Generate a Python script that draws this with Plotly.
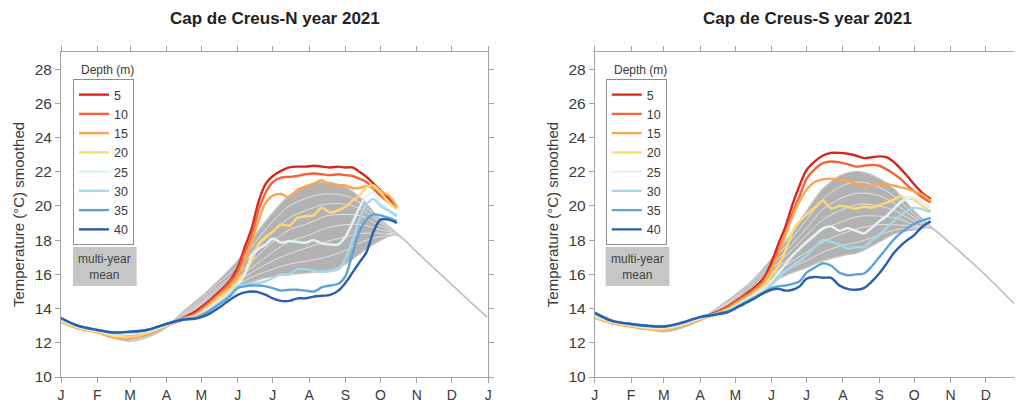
import plotly.graph_objects as go

# ---------------- data ----------------
month_days = [1, 32, 60, 91, 121, 152, 182, 213, 244, 274, 305, 335, 366]
month_labels = ["J", "F", "M", "A", "M", "J", "J", "A", "S", "O", "N", "D", "J"]
y_ticks = [10, 12, 14, 16, 18, 20, 22, 24, 26, 28]

depths = [5, 10, 15, 20, 25, 30, 35, 40]
depth_colors = ["#d7261e", "#f4623a", "#fba550", "#fdd873",
                "#e2f2f8", "#a6d6eb", "#5ea3d6", "#2b5fad"]

days_2021 = [1, 15, 32, 46, 60, 74, 91, 105, 115, 125, 135, 145, 152, 158, 164,
             170, 176, 182, 189, 196, 203, 210, 217, 224, 231, 238, 244, 250,
             256, 262, 268, 274, 281, 288]

days_clim = [1, 15, 32, 46, 60, 74, 91, 105, 121, 135, 152, 166, 182, 196, 213,
             227, 244, 258, 274, 288, 305, 319, 335, 349, 365]

# Cap de Creus-N, year 2021
N_5 = [13.3, 12.95, 12.7, 12.45, 12.4, 12.6, 13.05, 13.45, 13.8, 14.3, 14.9, 15.6, 16.4, 17.6, 18.7, 20.3, 21.3, 21.75, 22.05, 22.25, 22.3, 22.3, 22.35, 22.3, 22.25, 22.3, 22.25, 22.25, 22.0, 21.7, 21.3, 20.9, 20.45, 19.95]
N_10 = [13.25, 12.9, 12.65, 12.35, 12.3, 12.5, 13.0, 13.4, 13.7, 14.2, 14.8, 15.5, 16.2, 17.3, 18.3, 19.8, 20.8, 21.4, 21.65, 21.7, 21.75, 21.85, 21.9, 21.85, 21.8, 21.85, 21.8, 21.75, 21.6, 21.4, 21.0, 20.6, 20.2, 19.85]
N_15 = [13.2, 12.85, 12.6, 12.3, 12.25, 12.5, 13.0, 13.4, 13.6, 14.1, 14.7, 15.3, 15.9, 16.7, 17.9, 19.2, 20.2, 20.6, 20.7, 20.5, 20.95, 21.15, 21.3, 21.5, 21.15, 21.2, 21.2, 21.05, 21.05, 21.15, 21.05, 20.85, 20.6, 19.95]
N_20 = [13.25, 12.9, 12.65, 12.4, 12.35, 12.55, 13.0, 13.4, 13.55, 14.0, 14.55, 15.1, 15.6, 16.1, 16.8, 17.8, 18.2, 18.5, 18.9, 18.85, 19.3, 19.4, 19.45, 19.9, 19.6, 19.75, 19.95, 20.3, 20.6, 21.1, 21.2, 20.8, 20.2, 19.8]
N_25 = [13.35, 12.95, 12.7, 12.5, 12.5, 12.65, 13.05, 13.4, 13.5, 13.9, 14.4, 14.9, 15.4, 16.0, 17.1, 17.5, 17.75, 18.1, 17.85, 17.95, 17.9, 17.85, 18.0, 17.8, 17.75, 17.75, 18.2, 19.0, 19.9, 20.6, 20.75, 20.2, 19.8, 19.5]
N_30 = [13.4, 13.0, 12.75, 12.55, 12.6, 12.7, 13.1, 13.4, 13.45, 13.8, 14.25, 14.8, 15.3, 15.4, 15.45, 15.5, 15.6, 15.8, 16.0, 16.0, 16.3, 16.3, 16.2, 16.15, 16.2, 16.3, 16.9, 18.0, 19.2, 20.1, 20.4, 20.0, 19.7, 19.4]
N_35 = [13.45, 13.0, 12.75, 12.6, 12.65, 12.75, 13.1, 13.4, 13.45, 13.75, 14.2, 14.7, 15.2, 15.3, 15.35, 15.35, 15.3, 15.2, 15.05, 15.1, 15.1, 15.05, 15.0, 15.25, 15.35, 15.45, 15.9, 17.2, 18.5, 19.2, 19.5, 19.45, 19.3, 19.1]
N_40 = [13.45, 13.0, 12.75, 12.6, 12.65, 12.75, 13.1, 13.35, 13.4, 13.6, 14.0, 14.5, 14.8, 14.95, 15.0, 14.95, 14.8, 14.6, 14.45, 14.45, 14.6, 14.6, 14.7, 14.75, 14.8, 15.05, 15.5, 16.1, 16.7, 17.3, 18.5, 19.2, 19.2, 19.0]

# Cap de Creus-S, year 2021
S_5 = [13.55, 13.2, 13.0, 12.9, 12.85, 13.05, 13.45, 13.8, 14.15, 14.6, 15.1, 15.75, 16.7, 17.8, 18.8, 20.1, 21.2, 22.1, 22.6, 22.95, 23.1, 23.1, 23.05, 22.95, 22.8, 22.85, 22.9, 22.85, 22.6, 22.2, 21.75, 21.25, 20.75, 20.4]
S_10 = [13.5, 13.2, 13.0, 12.85, 12.8, 13.0, 13.4, 13.75, 14.1, 14.55, 15.0, 15.6, 16.4, 17.4, 18.4, 19.6, 20.6, 21.6, 22.15, 22.5, 22.6, 22.55, 22.45, 22.3, 22.35, 22.4, 22.35, 22.15, 21.9, 21.6, 21.2, 20.85, 20.5, 20.2]
S_15 = [13.45, 13.15, 12.95, 12.8, 12.75, 12.95, 13.35, 13.7, 14.0, 14.45, 14.9, 15.5, 16.3, 17.2, 18.3, 19.4, 20.3, 20.95, 21.4, 21.55, 21.6, 21.55, 21.45, 21.3, 21.15, 21.2, 21.3, 21.3, 21.2, 21.1, 21.0, 20.85, 20.65, 20.3]
S_20 = [13.5, 13.2, 13.0, 12.85, 12.8, 13.0, 13.4, 13.7, 13.95, 14.35, 14.8, 15.3, 15.9, 16.5, 17.4, 18.5, 19.1, 19.5, 19.9, 20.3, 19.85, 20.0, 19.95, 19.85, 19.95, 19.9, 20.05, 20.2, 20.35, 20.55, 20.45, 20.35, 20.0, 19.7]
S_25 = [13.6, 13.25, 13.05, 12.9, 12.9, 13.05, 13.45, 13.7, 13.9, 14.3, 14.7, 15.15, 15.6, 16.1, 16.6, 17.1, 17.5, 17.9, 18.3, 18.7, 18.8, 18.55, 18.7, 18.55, 18.4, 18.75, 19.1, 19.4, 19.8, 20.2, 20.45, 20.5, 20.2, 19.9]
S_30 = [13.7, 13.3, 13.1, 12.95, 12.95, 13.1, 13.5, 13.7, 13.85, 14.2, 14.6, 15.0, 15.4, 15.8, 16.2, 16.5, 16.8, 17.1, 17.6, 18.0, 17.9, 17.75, 17.5, 17.6, 17.6, 18.0, 18.3, 18.7, 19.1, 19.45, 19.7, 19.9, 19.8, 19.65]
S_35 = [13.75, 13.3, 13.1, 13.0, 12.95, 13.15, 13.5, 13.7, 13.85, 14.2, 14.55, 14.9, 15.2, 15.3, 15.35, 15.45, 15.6, 16.1, 16.4, 16.65, 16.5, 16.1, 15.95, 16.0, 16.05, 16.5, 17.0, 17.5, 18.0, 18.4, 18.7, 18.95, 19.15, 19.3]
S_40 = [13.75, 13.3, 13.1, 13.0, 12.95, 13.15, 13.5, 13.65, 13.8, 14.15, 14.5, 14.9, 15.1, 15.15, 15.05, 15.1, 15.3, 15.75, 15.85, 15.8, 15.8, 15.35, 15.15, 15.1, 15.2, 15.6, 16.05, 16.6, 17.2, 17.65, 18.0, 18.3, 18.8, 19.1]

# multi-year mean, Cap de Creus-N
N_c5 = [13.4, 13.05, 12.7, 12.3, 12.1, 12.3, 12.9, 13.8, 14.7, 15.6, 16.8, 18.2, 19.6, 20.6, 21.2, 21.4, 21.1, 20.4, 19.2, 18.4, 17.3, 16.4, 15.4, 14.5, 13.5]
N_c10 = [13.4, 13.05, 12.7, 12.3, 12.1, 12.3, 12.9, 13.7, 14.55, 15.45, 16.5, 17.8, 19.1, 20.0, 20.5, 20.7, 20.6, 20.1, 19.1, 18.4, 17.3, 16.4, 15.4, 14.5, 13.5]
N_c15 = [13.4, 13.05, 12.7, 12.3, 12.1, 12.3, 12.9, 13.6, 14.4, 15.25, 16.2, 17.4, 18.5, 19.3, 19.8, 20.1, 20.1, 19.8, 19.0, 18.4, 17.3, 16.4, 15.4, 14.5, 13.5]
N_c20 = [13.4, 13.05, 12.7, 12.35, 12.15, 12.35, 12.9, 13.5, 14.3, 15.1, 16.0, 16.9, 17.9, 18.6, 19.0, 19.4, 19.5, 19.4, 18.8, 18.4, 17.3, 16.4, 15.4, 14.5, 13.5]
N_c25 = [13.4, 13.05, 12.7, 12.35, 12.15, 12.35, 12.95, 13.45, 14.2, 14.95, 15.8, 16.5, 17.3, 17.9, 18.3, 18.7, 18.9, 18.9, 18.6, 18.35, 17.3, 16.4, 15.4, 14.5, 13.5]
N_c30 = [13.4, 13.05, 12.75, 12.4, 12.2, 12.4, 12.95, 13.4, 14.05, 14.75, 15.6, 16.2, 16.8, 17.2, 17.6, 17.9, 18.2, 18.4, 18.4, 18.3, 17.3, 16.4, 15.4, 14.5, 13.5]
N_c35 = [13.4, 13.05, 12.75, 12.4, 12.2, 12.4, 12.95, 13.35, 13.95, 14.6, 15.4, 15.9, 16.3, 16.6, 16.8, 17.0, 17.4, 17.9, 18.2, 18.3, 17.3, 16.4, 15.4, 14.5, 13.5]
N_c40 = [13.4, 13.05, 12.75, 12.4, 12.25, 12.4, 12.95, 13.3, 13.8, 14.4, 15.2, 15.6, 15.9, 16.0, 16.1, 16.2, 16.6, 17.3, 18.0, 18.3, 17.3, 16.4, 15.4, 14.5, 13.5]

# multi-year mean, Cap de Creus-S
S_c5 = [13.8, 13.35, 13.0, 12.8, 12.65, 12.85, 13.35, 14.0, 14.8, 15.6, 16.9, 18.1, 19.7, 21.0, 21.85, 22.0, 21.6, 20.9, 19.7, 18.8, 17.8, 16.95, 15.95, 15.0, 13.9]
S_c10 = [13.8, 13.35, 13.0, 12.8, 12.65, 12.85, 13.35, 13.95, 14.7, 15.5, 16.7, 17.8, 19.2, 20.4, 21.2, 21.4, 21.1, 20.5, 19.5, 18.75, 17.8, 16.95, 15.95, 15.0, 13.9]
S_c15 = [13.8, 13.35, 13.0, 12.8, 12.65, 12.85, 13.35, 13.9, 14.6, 15.35, 16.5, 17.5, 18.7, 19.8, 20.5, 20.75, 20.6, 20.1, 19.3, 18.75, 17.8, 16.95, 15.95, 15.0, 13.9]
S_c20 = [13.8, 13.35, 13.0, 12.8, 12.65, 12.85, 13.35, 13.85, 14.5, 15.2, 16.3, 17.2, 18.3, 19.2, 19.8, 20.1, 20.0, 19.7, 19.1, 18.75, 17.8, 16.95, 15.95, 15.0, 13.9]
S_c25 = [13.8, 13.35, 13.0, 12.8, 12.7, 12.85, 13.3, 13.8, 14.4, 15.0, 16.1, 16.9, 17.8, 18.6, 19.1, 19.4, 19.4, 19.3, 18.9, 18.7, 17.8, 16.95, 15.95, 15.0, 13.9]
S_c30 = [13.8, 13.35, 13.0, 12.8, 12.7, 12.85, 13.3, 13.8, 14.3, 14.9, 15.9, 16.6, 17.3, 17.9, 18.4, 18.7, 18.9, 18.9, 18.8, 18.7, 17.8, 16.95, 15.95, 15.0, 13.9]
S_c35 = [13.8, 13.35, 13.0, 12.8, 12.7, 12.85, 13.3, 13.75, 14.2, 14.75, 15.7, 16.3, 16.8, 17.3, 17.7, 17.9, 18.3, 18.6, 18.7, 18.7, 17.8, 16.95, 15.95, 15.0, 13.9]
S_c40 = [13.8, 13.35, 13.0, 12.8, 12.7, 12.85, 13.3, 13.7, 14.1, 14.6, 15.5, 16.0, 16.4, 16.8, 17.1, 17.3, 17.9, 18.4, 18.6, 18.7, 17.8, 16.95, 15.95, 15.0, 13.9]

panels = [
    {"title": "Cap de Creus-N year 2021", "series": [N_5, N_10, N_15, N_20, N_25, N_30, N_35, N_40],
     "clim": [N_c5, N_c10, N_c15, N_c20, N_c25, N_c30, N_c35, N_c40]},
    {"title": "Cap de Creus-S year 2021", "series": [S_5, S_10, S_15, S_20, S_25, S_30, S_35, S_40],
     "clim": [S_c5, S_c10, S_c15, S_c20, S_c25, S_c30, S_c35, S_c40]},
]

# ---------------- layout geometry ----------------
# the page body has an 8 px margin, so the figure is drawn 8 px in from the window corner
OFF = 8
W, H = 1022 - OFF, 408 - OFF
ML, MR, MT, MB = 61 - OFF, 0, 52 - OFF, 408 - 377
PW, PH = W - ML - MR, H - MT - MB
px_per_day = (490 - 61) / 365.0


def px(xs):  # window x -> paper fraction
    return (xs - OFF - ML) / PW


def py(ys):  # window y -> paper fraction
    return (H - MB - (ys - OFF)) / PH


domains = [[0, px(490)], [px(597), 1.0]]
x_ranges = [[1, 366], [1, 1 + (1022 - 597) / px_per_day]]

FONT = "Liberation Sans, Arial, Helvetica, sans-serif"
AXC = "#a3a3a3"
TXT = "#3a3a3a"

fig = go.Figure()

for i, p in enumerate(panels):
    xa = "x" if i == 0 else "x2"
    ya = "y" if i == 0 else "y2"
    leg = "legend" if i == 0 else "legend2"
    clim = p["clim"]
    # envelope of multi-year means (5 m and 40 m)
    fig.add_trace(go.Scatter(x=days_clim, y=clim[-1], xaxis=xa, yaxis=ya, mode="lines",
                             line=dict(color="rgba(0,0,0,0)", width=0, shape="spline"),
                             showlegend=False, hoverinfo="skip"))
    fig.add_trace(go.Scatter(x=days_clim, y=clim[0], xaxis=xa, yaxis=ya, mode="lines",
                             line=dict(color="rgba(0,0,0,0)", width=0, shape="spline"),
                             fill="tonexty", fillcolor="#b2b2b2",
                             showlegend=False, hoverinfo="skip"))
    for c in clim[1:-1]:
        fig.add_trace(go.Scatter(x=days_clim, y=c, xaxis=xa, yaxis=ya, mode="lines",
                                 line=dict(color="#e2e2e2", width=1.0, shape="spline"),
                                 showlegend=False, hoverinfo="skip"))
    for c in (clim[0], clim[-1]):
        fig.add_trace(go.Scatter(x=days_clim, y=c, xaxis=xa, yaxis=ya, mode="lines",
                                 line=dict(color="#c2c2c2", width=1.4, shape="spline"),
                                 showlegend=False, hoverinfo="skip"))
    # 2021 series
    for d, col, s in zip(depths, depth_colors, p["series"]):
        fig.add_trace(go.Scatter(x=days_2021, y=s, xaxis=xa, yaxis=ya, mode="lines",
                                 name=str(d), legend=leg,
                                 line=dict(color=col, width=2.4, shape="spline", smoothing=0.9)))

axis_common = dict(showline=True, linecolor=AXC, linewidth=1, mirror="ticks",
                   ticks="outside", ticklen=5, tickcolor=AXC, showgrid=False,
                   zeroline=False)
xfont = dict(family=FONT, size=14, color=TXT)
yfont = dict(family=FONT, size=15.5, color=TXT)

ytitle = dict(text="Temperature (\u00b0C) smoothed",
              font=dict(family=FONT, size=15, color=TXT), standoff=6)

legend_common = dict(xanchor="left", yanchor="top", traceorder="normal",
                     bordercolor="#8c8c8c", borderwidth=1, bgcolor="white",
                     font=dict(family=FONT, size=12.5, color=TXT), tracegroupgap=0)

fig.update_layout(
    width=W, height=H, margin=dict(l=ML, r=MR, t=MT, b=MB),
    paper_bgcolor="white", plot_bgcolor="white",
    font=dict(family=FONT, color=TXT),
    xaxis=dict(domain=domains[0], range=x_ranges[0], tickvals=month_days, ticktext=month_labels,
               anchor="y", tickfont=xfont, **axis_common),
    yaxis=dict(domain=[0, 1], range=[10, 29], tickvals=y_ticks, anchor="x",
               title=ytitle, tickfont=yfont, **axis_common),
    xaxis2=dict(domain=domains[1], range=x_ranges[1], tickvals=month_days, ticktext=month_labels,
                anchor="y2", tickfont=xfont, **axis_common),
    yaxis2=dict(domain=[0, 1], range=[10, 29], tickvals=y_ticks, anchor="x2",
                title=ytitle, tickfont=yfont, **{**axis_common, "mirror": False}),
    legend=dict(x=px(73), y=py(79), **legend_common),
    legend2=dict(x=px(608), y=py(79), **legend_common),
    showlegend=True,
)

shapes = []
annotations = []
for i, (lx, tx) in enumerate([(73, 276), (608, 811)]):
    annotations.append(dict(text="<b>" + panels[i]["title"] + "</b>", xref="paper", yref="paper",
                            x=px(tx), y=py(18), showarrow=False, xanchor="center", yanchor="middle",
                            font=dict(family=FONT, size=17, color="#222")))
    annotations.append(dict(text="Depth (m)", xref="paper", yref="paper", x=px(lx + 35), y=py(70),
                            showarrow=False, xanchor="center", yanchor="middle",
                            font=dict(family=FONT, size=12, color=TXT)))
    shapes.append(dict(type="rect", xref="paper", yref="paper", x0=px(lx), x1=px(lx + 64),
                       y0=py(286), y1=py(247), fillcolor="#c6c6c6", line=dict(width=0), layer="above"))
    annotations.append(dict(text="multi-year<br>mean", xref="paper", yref="paper",
                            x=px(lx + 32), y=py(266.5), showarrow=False,
                            xanchor="center", yanchor="middle",
                            font=dict(family=FONT, size=12, color="#444")))

fig.update_layout(shapes=shapes, annotations=annotations)

fig.write_html("out.html")
